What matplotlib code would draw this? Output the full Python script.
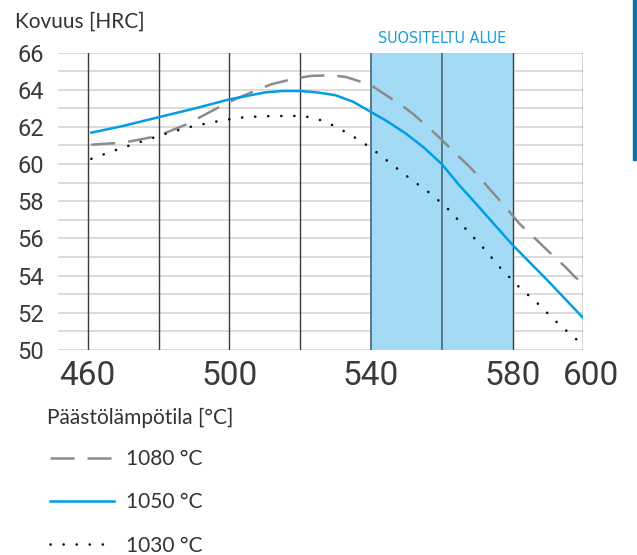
import matplotlib
matplotlib.use('Agg')
import matplotlib.pyplot as plt
from matplotlib.patches import Rectangle
from matplotlib.transforms import ScaledTranslation, blended_transform_factory

# Päästökäyrät: päästölämpötila [°C] -> kovuus [HRC] eri karkaisulämpötiloilla
temp_1080 = [461, 468, 472, 478.5, 482, 488.7, 492, 498, 502, 508, 512, 518.5,
             523, 529, 533, 540, 543, 549, 552, 557, 560, 565, 568, 572.5,
             575, 579.5, 582, 587, 590, 595, 597.5, 600]
hrc_1080 = [61.04, 61.13, 61.22, 61.46, 61.68, 62.2, 62.55, 63.15, 63.52, 64.0,
            64.3, 64.6, 64.74, 64.78, 64.68, 64.25, 63.86, 63.12, 62.68, 61.83,
            61.3, 60.37, 59.83, 58.88, 58.34, 57.35, 56.78, 55.88, 55.33, 54.45,
            53.95, 53.55]

temp_1050 = [461, 470, 480, 490, 500, 510, 515, 520, 525, 530, 535, 540, 545,
             550, 555, 560, 565, 570, 575, 580, 590, 600]
hrc_1050 = [61.69, 62.05, 62.52, 62.98, 63.48, 63.85, 63.93, 63.93, 63.85,
            63.7, 63.35, 62.8, 62.25, 61.62, 60.88, 60.0, 58.85, 57.8, 56.72,
            55.65, 53.72, 51.71]

temp_1030 = [461, 468, 475, 481.5, 488.5, 495.5, 502.5, 509.5, 516.5, 520.5,
             524, 527.5, 530.5, 534, 537, 540, 545.5, 551, 557, 562.5, 567, 572,
             576.5, 581.5, 587, 592, 597.5, 599.5]
hrc_1030 = [60.28, 60.76, 61.2, 61.6, 61.98, 62.26, 62.49, 62.57, 62.59, 62.59,
            62.47, 62.25, 61.96, 61.6, 61.24, 60.87, 60.04, 59.22, 58.39, 57.46,
            56.46, 55.44, 54.43, 53.45, 52.52, 51.58, 50.65, 50.35]

labels = ['1080 °C', '1050 °C', '1030 °C']

x_ticks = [460, 500, 540, 580, 600]
x_lines = [460, 480, 500, 520, 540, 560, 580, 600]
y_ticks = list(range(50, 67, 2))
y_lines = list(range(50, 67))
band = (540, 580)

TEXT = '#333333'
BLUE = '#009fe3'
GREY = '#8c8c8c'

fig = plt.figure(figsize=(6.37, 5.55), dpi=100)
ax = fig.add_axes([0.0911, 0.3694, 0.8247, 0.5360])
ax.set_xlim(451.6, 600)
ax.set_ylim(50, 66)

for s in ax.spines.values():
    s.set_visible(False)

# vaakaviivat joka yksikön välein
for y in y_lines:
    ax.axhline(y, color='#d2d2d2', lw=1.1, zorder=0.5)

# suositeltu alue
ax.axvspan(*band, color='#a3daf6', lw=0, zorder=0.8)
for x in x_lines:
    inside = band[0] <= x < band[1]
    ax.axvline(x, color='#5b7686' if inside else '#3c3c3c',
               lw=1.4 if inside else 1.0, zorder=1)

l1080, = ax.plot(temp_1080, hrc_1080, color=GREY, lw=1.8,
                 dashes=(9.6, 5.2), label=labels[0], zorder=3)
l1050, = ax.plot(temp_1050, hrc_1050, color=BLUE, lw=1.8,
                 label=labels[1], zorder=4)
l1030, = ax.plot(temp_1030, hrc_1030, color='#111111', lw=1.9,
                 dashes=(0.05, 4.9), dash_capstyle='round', label=labels[2],
                 zorder=3)

ax.set_xticks(x_ticks)
ax.set_yticks(y_ticks)
ax.tick_params(axis='both', length=0, colors='#3a3a3a')
ax.tick_params(axis='x', pad=7)
ax.tick_params(axis='y', pad=10)
for t in ax.get_xticklabels():
    t.set_fontfamily('Roboto')
    t.set_fontsize(24)
for t in ax.get_yticklabels():
    t.set_fontfamily('Roboto')
    t.set_fontsize(17)
# 600 hieman oikealle, ettei osu 580:n kanssa
last = ax.get_xticklabels()[-1]
last.set_transform(last.get_transform() + ScaledTranslation(8 / 100, 0, fig.dpi_scale_trans))

fig.text(15.3 / 637, 1 - 27.3 / 555, 'Kovuus [HRC]', fontsize=15,
         family='Lato', color=TEXT, va='baseline', ha='left')
fig.text(46.7 / 637, 1 - 424.3 / 555, 'Päästölämpötila [°C]', fontsize=15,
         family='Lato', color=TEXT, va='baseline', ha='left')

trans = blended_transform_factory(ax.transData, fig.transFigure)
ax.text(sum(band) / 2, 1 - 43 / 555, 'SUOSITELTU ALUE', transform=trans,
        ha='center', va='baseline', fontsize=11.5, color='#1a9ddb',
        family='DejaVu Sans', fontstretch='condensed')

fig.legend(handles=[l1080, l1050, l1030], loc='upper left',
           bbox_to_anchor=(50 / 637, 1 - 449 / 555), frameon=False,
           prop={'family': 'Lato', 'size': 15}, labelcolor=TEXT,
           handlelength=3.05, handletextpad=0.6, labelspacing=1.12,
           borderpad=0, borderaxespad=0)

# sivun reunapalkki
fig.patches.append(Rectangle((633 / 637, 1 - 160 / 555), 4 / 637, 160 / 555,
                             transform=fig.transFigure, color='#1070a8'))

fig.savefig('out.png', dpi=100)
